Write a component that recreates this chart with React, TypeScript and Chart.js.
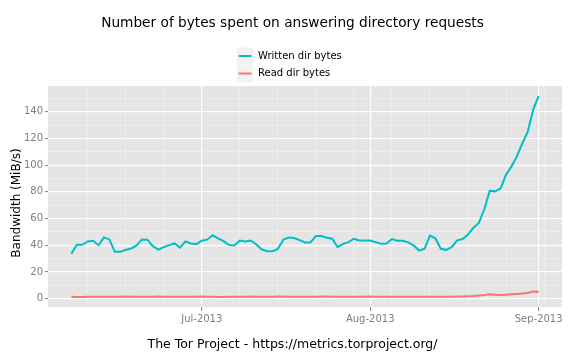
import React, { useEffect, useRef } from "react";
import { Chart, registerables } from "chart.js";

Chart.register(...registerables);

const FONT = "'DejaVu Sans', 'Liberation Sans', sans-serif";

const dates: string[] = [
  "2013-06-07", "2013-06-08", "2013-06-09", "2013-06-10", "2013-06-11", "2013-06-12", "2013-06-13", "2013-06-14",
  "2013-06-15", "2013-06-16", "2013-06-17", "2013-06-18", "2013-06-19", "2013-06-20", "2013-06-21", "2013-06-22",
  "2013-06-23", "2013-06-24", "2013-06-25", "2013-06-26", "2013-06-27", "2013-06-28", "2013-06-29", "2013-06-30",
  "2013-07-01", "2013-07-02", "2013-07-03", "2013-07-04", "2013-07-05", "2013-07-06", "2013-07-07", "2013-07-08",
  "2013-07-09", "2013-07-10", "2013-07-11", "2013-07-12", "2013-07-13", "2013-07-14", "2013-07-15", "2013-07-16",
  "2013-07-17", "2013-07-18", "2013-07-19", "2013-07-20", "2013-07-21", "2013-07-22", "2013-07-23", "2013-07-24",
  "2013-07-25", "2013-07-26", "2013-07-27", "2013-07-28", "2013-07-29", "2013-07-30", "2013-07-31",
  "2013-08-01", "2013-08-02", "2013-08-03", "2013-08-04", "2013-08-05", "2013-08-06", "2013-08-07", "2013-08-08",
  "2013-08-09", "2013-08-10", "2013-08-11", "2013-08-12", "2013-08-13", "2013-08-14", "2013-08-15", "2013-08-16",
  "2013-08-17", "2013-08-18", "2013-08-19", "2013-08-20", "2013-08-21", "2013-08-22", "2013-08-23", "2013-08-24",
  "2013-08-25", "2013-08-26", "2013-08-27", "2013-08-28", "2013-08-29", "2013-08-30", "2013-08-31",
  "2013-09-01",
];

const writtenDirBytes: number[] = [
  33.6, 40.4, 40.4, 42.9, 43.4, 40.1, 45.9, 44.4, 35.1, 35.1,
  36.6, 37.6, 39.9, 44.4, 44.2, 39.3, 36.8, 38.6, 40.1, 41.4,
  38.3, 42.9, 41.4, 40.9, 43.4, 44.2, 47.5, 45.2, 43.1, 40.3,
  39.8, 43.6, 42.9, 43.6, 40.8, 37.0, 35.5, 35.5, 37.3, 44.1,
  45.9, 45.4, 43.9, 42.1, 42.1, 46.9, 46.9, 45.6, 44.9, 38.6,
  41.1, 42.4, 44.9, 43.6, 43.6, 43.6, 42.4, 41.1, 41.4, 44.7,
  43.4, 43.4, 42.2, 39.9, 36.1, 37.4, 47.2, 45.2, 37.4, 36.6,
  38.6, 43.7, 44.7, 48.0, 53.1, 56.8, 67.0, 80.9, 80.4, 82.7,
  92.8, 99.1, 106.7, 116.3, 125.2, 141.6, 151.8,
];

const readDirBytes: number[] = [
  1.4, 1.3, 1.3, 1.4, 1.5, 1.5, 1.4, 1.4, 1.5, 1.5,
  1.6, 1.5, 1.5, 1.4, 1.5, 1.5, 1.6, 1.5, 1.5, 1.4,
  1.4, 1.5, 1.5, 1.5, 1.6, 1.5, 1.4, 1.3, 1.3, 1.4,
  1.4, 1.5, 1.5, 1.6, 1.5, 1.4, 1.4, 1.5, 1.6, 1.6,
  1.5, 1.4, 1.5, 1.5, 1.4, 1.5, 1.6, 1.6, 1.5, 1.4,
  1.5, 1.5, 1.4, 1.5, 1.5, 1.6, 1.5, 1.4, 1.5, 1.5,
  1.4, 1.4, 1.5, 1.5, 1.4, 1.5, 1.5, 1.5, 1.4, 1.5, 1.5,
  1.6, 1.7, 1.9, 2.1, 2.4, 2.8, 3.3, 2.9, 2.7, 3.0,
  3.3, 3.6, 3.9, 4.2, 5.4, 5.2,
];

const xMajorDates: string[] = ["2013-07-01", "2013-08-01", "2013-09-01"];
const xMajorLabels: string[] = ["Jul-2013", "Aug-2013", "Sep-2013"];
const xMinorDates: string[] = [
  "2013-06-10", "2013-06-17", "2013-06-24", "2013-07-08", "2013-07-15", "2013-07-22",
  "2013-07-29", "2013-08-05", "2013-08-12", "2013-08-19", "2013-08-26", "2013-09-02",
];
const yMajorTicks: number[] = [0, 20, 40, 60, 80, 100, 120, 140];
const yMinorTicks: number[] = [10, 30, 50, 70, 90, 110, 130, 150];

const seriesNames: string[] = ["Written dir bytes", "Read dir bytes"];
const seriesColors: string[] = ["#00BFC4", "#F8766D"];

const TITLE = "Number of bytes spent on answering directory requests";
const Y_TITLE = "Bandwidth (MiB/s)";
const CAPTION = "The Tor Project - https://metrics.torproject.org/";

const REF = Date.UTC(2013, 6, 1);
const toDay = (d: string) => {
  const [y, m, dd] = d.split("-").map(Number);
  return Math.round((Date.UTC(y, m - 1, dd) - REF) / 86400000);
};

export default function App() {
  const canvasRef = useRef<HTMLCanvasElement | null>(null);

  useEffect(() => {
    if (!canvasRef.current) return;
    const days = dates.map(toDay);
    const majorDays = xMajorDates.map(toDay);
    const minorDays = xMinorDates.map(toDay);
    const allX = [...minorDays, ...majorDays].sort((a, b) => a - b);
    const allY = [...yMajorTicks, ...yMinorTicks].sort((a, b) => a - b);

    const minX = days[0];
    const maxX = days[days.length - 1];
    const padX = (maxX - minX) * 0.05;
    const allVals = [...writtenDirBytes, ...readDirBytes];
    const minY = Math.min(...allVals);
    const maxY = Math.max(...allVals);
    const padY = (maxY - minY) * 0.05;

    const panelBg = {
      id: "panelBg",
      beforeDraw(chart: any) {
        const { ctx, chartArea } = chart;
        ctx.save();
        ctx.fillStyle = "#E5E5E5";
        ctx.fillRect(chartArea.left, chartArea.top, chartArea.right - chartArea.left, chartArea.bottom - chartArea.top);
        ctx.restore();
      },
    };

    const texts = {
      id: "texts",
      afterDraw(chart: any) {
        const { ctx } = chart;
        const cx = 292.5;
        ctx.save();
        ctx.fillStyle = "#000000";
        ctx.textAlign = "center";
        ctx.textBaseline = "middle";
        ctx.font = `13.7px ${FONT}`;
        ctx.fillText(TITLE, cx, 23);

        ctx.font = `12.5px ${FONT}`;
        ctx.fillText(CAPTION, cx, 344.5);

        ctx.save();
        ctx.font = `12px ${FONT}`;
        ctx.translate(17, 203);
        ctx.rotate(-Math.PI / 2);
        ctx.fillText(Y_TITLE, 0, 0);
        ctx.restore();

        // legend
        const keyX = 237;
        const keyW = 16;
        const keyH = 17;
        const keyTop = 47.5;
        ctx.font = `10px ${FONT}`;
        ctx.textAlign = "left";
        seriesNames.forEach((name, i) => {
          const top = keyTop + i * (keyH + 0.5);
          ctx.fillStyle = "#F2F2F2";
          ctx.fillRect(keyX, top, keyW, keyH);
          ctx.strokeStyle = seriesColors[i];
          ctx.lineWidth = 2;
          ctx.beginPath();
          ctx.moveTo(keyX + 1.5, top + keyH / 2);
          ctx.lineTo(keyX + keyW - 1.5, top + keyH / 2);
          ctx.stroke();
          ctx.fillStyle = "#000000";
          ctx.fillText(name, keyX + keyW + 5, top + keyH / 2);
        });
        ctx.restore();
      },
    };

    const chart = new Chart(canvasRef.current, {
      type: "line",
      data: {
        datasets: [
          {
            label: seriesNames[0],
            data: days.map((d, i) => ({ x: d, y: writtenDirBytes[i] })),
            borderColor: seriesColors[0],
            borderWidth: 2,
            pointRadius: 0,
            tension: 0,
            fill: false,
          },
          {
            label: seriesNames[1],
            data: days.map((d, i) => ({ x: d, y: readDirBytes[i] })),
            borderColor: seriesColors[1],
            borderWidth: 2,
            pointRadius: 0,
            tension: 0,
            fill: false,
          },
        ],
      },
      options: {
        responsive: false,
        animation: false,
        devicePixelRatio: 1,
        layout: { padding: { left: 0, top: 86, right: 14, bottom: 0 } },
        plugins: {
          legend: { display: false },
          title: { display: false },
          tooltip: { enabled: false },
        },
        scales: {
          x: {
            type: "linear",
            min: minX - padX,
            max: maxX + padX,
            afterBuildTicks: (s: any) => {
              s.ticks = allX.map((v) => ({ value: v }));
            },
            afterFit: (s: any) => {
              s.height = 53;
            },
            border: { display: false },
            grid: {
              color: (c: any) => (majorDays.includes(c.tick?.value) ? "#FFFFFF" : "#F2F2F2"),
              lineWidth: (c: any) => (majorDays.includes(c.tick?.value) ? 1.2 : 0.6),
              tickLength: 4,
              tickWidth: 1,
              tickColor: (c: any) => (majorDays.includes(c.tick?.value) ? "#7F7F7F" : "rgba(0,0,0,0)"),
            },
            ticks: {
              autoSkip: false,
              maxRotation: 0,
              minRotation: 0,
              padding: 2,
              color: "#7F7F7F",
              font: { family: FONT, size: 10 },
              callback: (v: any) => {
                const idx = majorDays.indexOf(Number(v));
                return idx >= 0 ? xMajorLabels[idx] : "";
              },
            },
          },
          y: {
            type: "linear",
            min: minY - padY,
            max: maxY + padY,
            afterBuildTicks: (s: any) => {
              s.ticks = allY.map((v) => ({ value: v }));
            },
            afterFit: (s: any) => {
              s.width = 48;
            },
            border: { display: false },
            grid: {
              color: (c: any) => (yMajorTicks.includes(c.tick?.value) ? "#FFFFFF" : "#F2F2F2"),
              lineWidth: (c: any) => (yMajorTicks.includes(c.tick?.value) ? 1.2 : 0.6),
              tickLength: 3,
              tickWidth: 1,
              tickColor: (c: any) => (yMajorTicks.includes(c.tick?.value) ? "#7F7F7F" : "rgba(0,0,0,0)"),
            },
            ticks: {
              autoSkip: false,
              padding: 2,
              color: "#7F7F7F",
              font: { family: FONT, size: 10 },
              callback: (v: any) => (yMajorTicks.includes(Number(v)) ? String(v) : ""),
            },
          },
        },
      },
      plugins: [panelBg, texts],
    });

    return () => chart.destroy();
  }, []);

  return (
    <div style={{ position: "fixed", left: 0, top: 0, width: 576, height: 360, background: "#FFFFFF" }}>
      <canvas ref={canvasRef} width={576} height={360} style={{ display: "block", width: 576, height: 360 }} />
    </div>
  );
}
